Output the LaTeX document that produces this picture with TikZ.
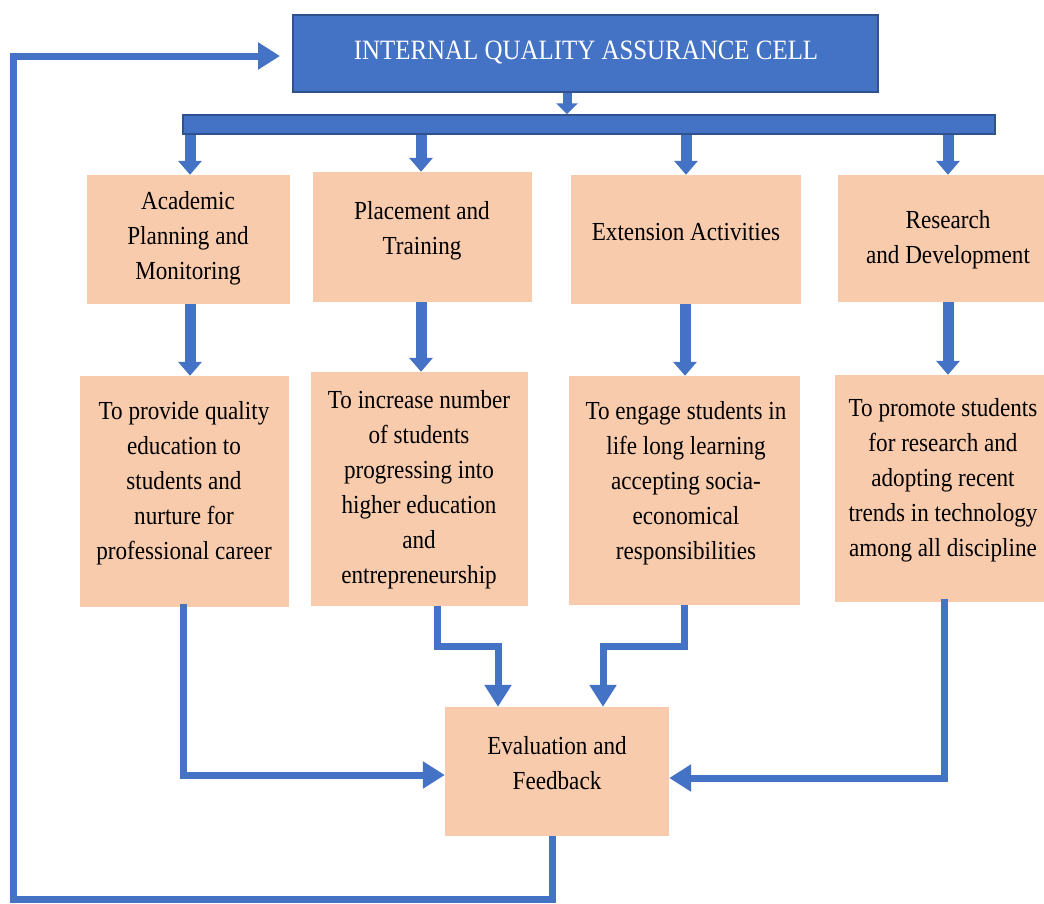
\documentclass[tikz,border=0pt]{standalone}
\usepackage{fontspec}
\setmainfont{Liberation Serif}[FakeStretch=0.89]
\usetikzlibrary{arrows.meta}
\definecolor{qblue}{HTML}{4472C4}
\definecolor{qborder}{HTML}{2F528F}
\definecolor{qpeach}{HTML}{F8CBAD}
\tikzset{
  box/.style={rectangle, fill=qpeach, draw=none, inner sep=0pt},
  bluebox/.style={rectangle, fill=qblue, draw=qborder, line width=1.5pt, inner sep=0pt},
  txt/.style={align=center, font=\fontsize{26}{35}\selectfont, text=black, inner sep=0pt},
  blockarrow/.style={draw=qblue, line width=11pt, -{Triangle[width=23pt,length=14pt]}},
  smallarrow/.style={draw=qblue, line width=9pt, -{Triangle[width=21pt,length=11pt]}},
  conn/.style={draw=qblue, line width=7pt, line join=miter, -{Triangle[width=26pt,length=22pt]}},
}
\begin{document}
\begin{tikzpicture}[x=1pt,y=-1pt]
\useasboundingbox (0,0) rectangle (1044,903);
% top
\node[bluebox, minimum width=585pt, minimum height=77pt] (iqac) at (585.5,53.5) {};
\node[txt, text=white, font=\fontsize{28}{34}\selectfont] (iqact) at (586,52) {INTERNAL QUALITY ASSURANCE CELL};
\node[bluebox, minimum width=812pt, minimum height=19pt] (bar) at (589,124.5) {};
% row 1
\node[box, minimum width=203pt, minimum height=129pt] (ap) at (188.5,239.5) {};
\node[box, minimum width=219pt, minimum height=130pt] (pt) at (422.5,237) {};
\node[box, minimum width=230pt, minimum height=129pt] (ea) at (686,239.5) {};
\node[box, minimum width=212pt, minimum height=127pt] (rd) at (944,238.5) {};
\node[txt] (apt) at (188,238) {Academic\\Planning and\\Monitoring};
\node[txt] (ptt) at (422,230.5) {Placement and\\Training};
\node[txt] (eat) at (686,232) {Extension Activities};
\node[txt] (rdt) at (948,239.5) {Research\\and Development};
% row 2
\node[box, minimum width=209pt, minimum height=231pt] (ap2) at (184.5,491.5) {};
\node[box, minimum width=217pt, minimum height=234pt] (pt2) at (419.5,489) {};
\node[box, minimum width=231pt, minimum height=229pt] (ea2) at (684.5,490.5) {};
\node[box, minimum width=215pt, minimum height=227pt] (rd2) at (942.5,488.5) {};
\node[txt] (ap2t) at (184,483) {To provide quality\\education to\\students and\\nurture for\\professional career};
\node[txt] (pt2t) at (419,489.5) {To increase number\\of students\\progressing into\\higher education\\and\\entrepreneurship};
\node[txt] (ea2t) at (686,483) {To engage students in\\life long learning\\accepting socia-\\economical\\responsibilities};
\node[txt] (rd2t) at (943,480) {To promote students\\for research and\\adopting recent\\trends in technology\\among all discipline};
% evaluation
\node[box, minimum width=224pt, minimum height=129pt] (ev) at (557,771.5) {};
\node[txt] (evt) at (557,763.5) {Evaluation and\\Feedback};
% arrows top
\draw[smallarrow] ([xshift=-18.5pt]iqac.south) -- ([xshift=-18.5pt]iqac.south |- bar.north);
\draw[blockarrow] ([xshift=1.5pt]ap.north |- bar.south) -- ([xshift=1.5pt]ap.north);
\draw[blockarrow] ([xshift=-1.5pt]pt.north |- bar.south) -- ([xshift=-1.5pt]pt.north);
\draw[blockarrow] (ea.north |- bar.south) -- (ea.north);
\draw[blockarrow] ([xshift=4pt]rd.north |- bar.south) -- ([xshift=4pt]rd.north);
% row1 -> row2
\draw[blockarrow] ([xshift=1.5pt]ap.south) -- ([xshift=1.5pt]ap.south |- ap2.north);
\draw[blockarrow] ([xshift=-1.5pt]pt.south) -- ([xshift=-1.5pt]pt.south |- pt2.north);
\draw[blockarrow] ([xshift=-1pt]ea.south) -- ([xshift=-1pt]ea.south |- ea2.north);
\draw[blockarrow] ([xshift=4pt]rd.south) -- ([xshift=4pt]rd.south |- rd2.north);
% row2 -> evaluation
\draw[conn] ([xshift=-1.5pt,yshift=3pt]ap2.south) |- ([yshift=-3.5pt]ev.west);
\draw[conn] ([xshift=17.5pt]pt2.south) -- ++(0,40) -| ([xshift=-59pt]ev.north);
\draw[conn] ([xshift=-0.5pt]ea2.south) -- ++(0,41) -| ([xshift=46pt]ev.north);
\draw[conn] ([xshift=1.5pt,yshift=3pt]rd2.south) |- ([yshift=-6.5pt]ev.east);
% feedback loop
\coordinate (loopbl) at (13,899);
\coordinate (looptl) at (13,56);
\coordinate (fbtip) at (280,56);
\draw[conn] ([xshift=-5pt]ev.south) |- (loopbl) -- (looptl) -- (fbtip);
\end{tikzpicture}
\end{document}
